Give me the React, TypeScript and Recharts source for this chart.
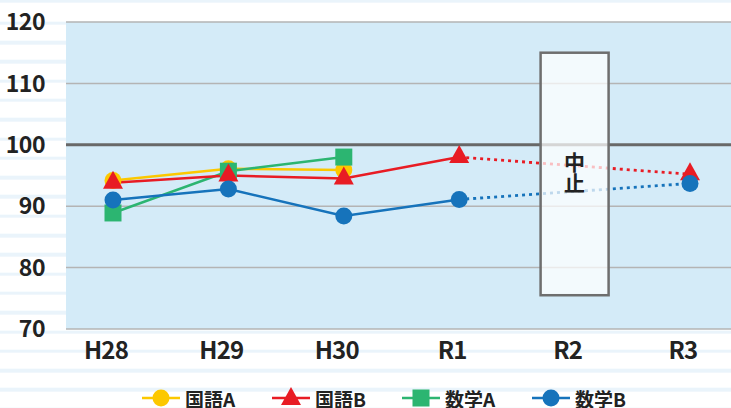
import React from 'react'
import {
  LineChart, Line, XAxis, YAxis, CartesianGrid, ReferenceLine, ReferenceArea,
} from 'recharts'

// 全国平均を100とした学力調査結果の推移
const YEARS = ['H28', 'H29', 'H30', 'R1', 'R2', 'R3']
const KOKUGO_A = [94.2, 96.1, 95.9, null, null, null]
const KOKUGO_B = [93.8, 95.0, 94.5, 98.0, null, 95.2]
const SUGAKU_A = [88.9, 95.7, 98.0, null, null, null]
const SUGAKU_B = [91.0, 92.8, 88.4, 91.1, null, 93.7]
const Y_TICKS = [70, 80, 90, 100, 110, 120]

// R2 was cancelled (中止); dotted links jump over it
const SKIP_FROM = 'R1'
const SKIP_TO = 'R3'
const STOP_BOX = [75.5, 115]

const YELLOW = '#fcc800'
const RED = '#e81c24'
const GREEN = '#2cb571'
const BLUE = '#1673bb'
const FONT = '"Noto Sans CJK JP", "Noto Sans", sans-serif'

const bridge = (arr: (number | null)[]) =>
  YEARS.map((y, i) => (y === SKIP_FROM || y === SKIP_TO ? arr[i] : null))

const rows = YEARS.map((year, i) => ({
  year,
  kokugoA: KOKUGO_A[i],
  kokugoB: KOKUGO_B[i],
  sugakuA: SUGAKU_A[i],
  sugakuB: SUGAKU_B[i],
  kokugoBDot: bridge(KOKUGO_B)[i],
  sugakuBDot: bridge(SUGAKU_B)[i],
}))

type Shape = 'circle' | 'triangle' | 'square'

const Marker = ({ x, y, shape, color }: { x: number; y: number; shape: Shape; color: string }) => {
  if (shape === 'circle') return <circle cx={x} cy={y} r={8.5} fill={color} />
  if (shape === 'square') return <rect x={x - 8.5} y={y - 8.5} width={17} height={17} fill={color} />
  return <polygon points={`${x},${y - 12} ${x + 10},${y + 6} ${x - 10},${y + 6}`} fill={color} />
}

const dotFor = (shape: Shape, color: string) => (p: any) => {
  if (p.cx == null || p.cy == null || p.value == null) return <g key={p.index} />
  return <Marker key={p.index} x={p.cx} y={p.cy} shape={shape} color={color} />
}

const SERIES: { key: string; name: string; color: string; shape: Shape }[] = [
  { key: 'kokugoA', name: '国語A', color: YELLOW, shape: 'circle' },
  { key: 'sugakuA', name: '数学A', color: GREEN, shape: 'square' },
  { key: 'kokugoB', name: '国語B', color: RED, shape: 'triangle' },
  { key: 'sugakuB', name: '数学B', color: BLUE, shape: 'circle' },
]
const LEGEND_ORDER = ['kokugoA', 'kokugoB', 'sugakuA', 'sugakuB']

const StopBox = (p: any) => {
  const cx = p.x + p.width / 2
  return (
    <g>
      <rect x={cx - 34} y={p.y} width={68} height={p.height}
        fill="rgba(255,255,255,0.72)" stroke="#6e6e6e" strokeWidth={2.5} />
      <text x={cx} y={p.y + 99} fontFamily={FONT} fontSize={21} fontWeight={700} fill="#222"
        style={{ writingMode: 'vertical-rl' }}>中止</text>
    </g>
  )
}

export default function App() {
  return (
    <div style={{
      position: 'absolute', left: 0, top: 0, width: 731, height: 408,
      background: 'repeating-linear-gradient(to bottom, #ffffff 0px, #ffffff 15.8px, #eaf4fb 15.8px, #eaf4fb 19.3px)',
      backgroundPosition: '0 5.7px',
    }}>
      <LineChart width={731} height={408} data={rows}
        margin={{ top: 22, right: 0, bottom: 29, left: 0 }}>
        <CartesianGrid vertical={false} fill="#d4ebf8" stroke="#b4b4b4" strokeWidth={1.5} />
        <XAxis dataKey="year" scale="point" padding={{ left: 47, right: 41 }} height={50}
          axisLine={false} tickLine={false} tickSize={0} tickMargin={13}
          tick={{ fill: '#222', fontSize: 24, fontWeight: 700, fontFamily: FONT, dx: -7, letterSpacing: -0.8 }} />
        <YAxis domain={[70, 120]} ticks={Y_TICKS} width={66} allowDataOverflow
          axisLine={false} tickLine={false} tickSize={0} tickMargin={21}
          tick={{ fill: '#222', fontSize: 23, fontWeight: 700, fontFamily: FONT, letterSpacing: -0.5 }} />
        <ReferenceLine y={100} stroke="#686868" strokeWidth={3} />
        <Line dataKey="kokugoBDot" stroke={RED} strokeWidth={2.8} strokeDasharray="3 4"
          connectNulls dot={false} activeDot={false} isAnimationActive={false} />
        <Line dataKey="sugakuBDot" stroke={BLUE} strokeWidth={2.8} strokeDasharray="3 4"
          connectNulls dot={false} activeDot={false} isAnimationActive={false} />
        {SERIES.map(s => (
          <Line key={s.key} dataKey={s.key} name={s.name} stroke={s.color} strokeWidth={2.5}
            dot={dotFor(s.shape, s.color)} activeDot={false} isAnimationActive={false} />
        ))}
        <ReferenceArea x1={SKIP_FROM} x2={SKIP_TO} y1={STOP_BOX[0]} y2={STOP_BOX[1]}
          shape={StopBox} zIndex={1500} />
      </LineChart>

      {/* legend */}
      <svg width={731} height={25} style={{ position: 'absolute', left: 0, top: 383, overflow: 'visible' }}>
        {LEGEND_ORDER.map((k, i) => {
          const s = SERIES.find(x => x.key === k)!
          const x0 = 142 + i * 130
          return (
            <g key={k}>
              <line x1={x0} y1={15} x2={x0 + 38} y2={15} stroke={s.color} strokeWidth={2.5} />
              <Marker x={x0 + 19} y={s.shape === 'triangle' ? 16 : 15} shape={s.shape} color={s.color} />
              <text x={x0 + 43} y={15} dominantBaseline="central" fontFamily={FONT} fontSize={19}
                fontWeight={700} fill="#222">
                {s.name}
              </text>
            </g>
          )
        })}
      </svg>
    </div>
  )
}
